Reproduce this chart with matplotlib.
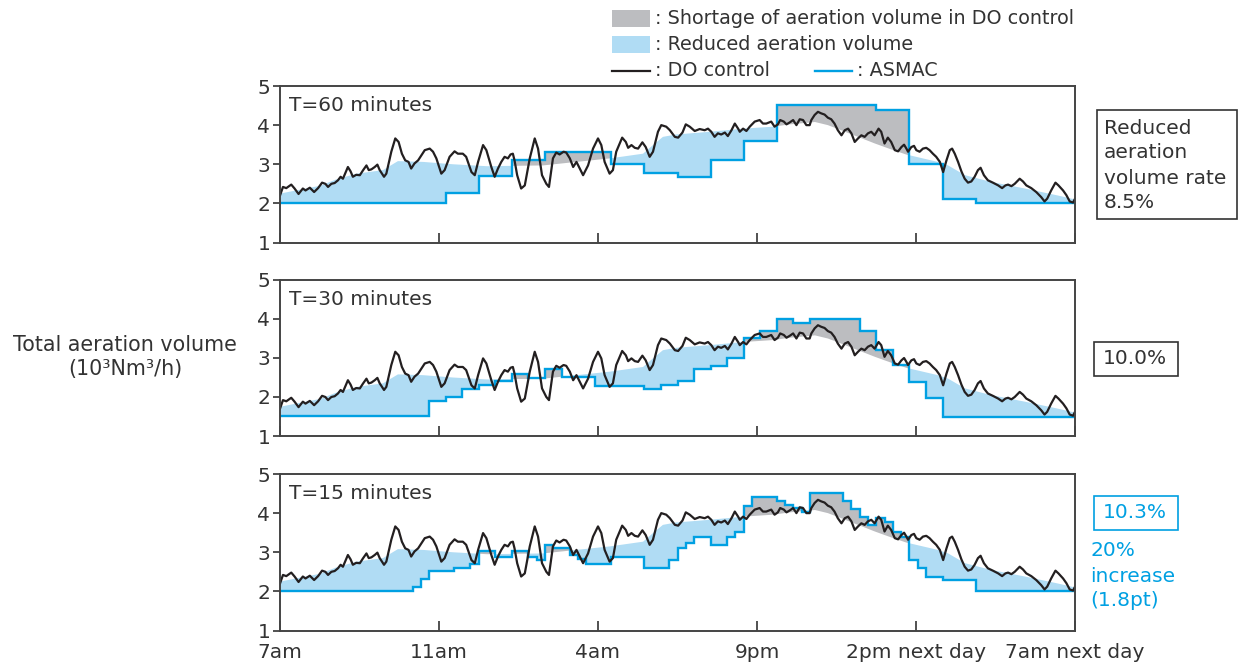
import numpy as np
import matplotlib
matplotlib.use("Agg")
import matplotlib.pyplot as plt
from matplotlib.lines import Line2D
from matplotlib.patches import Rectangle

plt.rcParams['font.family'] = ['DejaVu Sans']

# ---------------- data (time in hours after 7am) ----------------
x_tick_pos = [0, 4.8, 9.6, 14.4, 19.2, 24]
x_tick_labels = ["7am", "11am", "4am", "9pm", "2pm next day", "7am next day"]
y_ticks = [1, 2, 3, 4, 5]

do_t = [0.00, 0.09, 0.19, 0.34, 0.44, 0.56, 0.69, 0.77, 0.90, 1.03, 1.15, 1.27, 1.37, 1.45, 1.55,
        1.65, 1.75, 1.83, 1.90, 2.05, 2.13, 2.20, 2.30, 2.41, 2.51, 2.61, 2.68, 2.76, 2.86, 2.94,
        3.01, 3.14, 3.21, 3.36, 3.48, 3.58, 3.68, 3.78, 3.88, 3.96, 4.06, 4.17, 4.37, 4.52, 4.62,
        4.72, 4.87, 4.97, 5.12, 5.27, 5.37, 5.52, 5.62, 5.78, 5.88, 5.98, 6.13, 6.23, 6.38, 6.48,
        6.58, 6.68, 6.78, 6.88, 6.96, 7.03, 7.08, 7.16, 7.28, 7.39, 7.54, 7.69, 7.79, 7.91, 8.04,
        8.12, 8.24, 8.34, 8.44, 8.56, 8.64, 8.75, 8.85, 8.95, 9.05, 9.15, 9.30, 9.45, 9.60, 9.70,
        9.80, 9.95, 10.05, 10.15, 10.33, 10.44, 10.51, 10.61, 10.71, 10.81, 10.94, 11.04, 11.16,
        11.26, 11.41, 11.51, 11.66, 11.77, 11.92, 12.02, 12.15, 12.25, 12.37, 12.52, 12.67, 12.82,
        12.92, 13.02, 13.12, 13.22, 13.32, 13.43, 13.52, 13.63, 13.73, 13.83, 13.88, 13.98, 14.08,
        14.18, 14.33, 14.48, 14.58, 14.68, 14.83, 14.93, 15.03, 15.10, 15.21, 15.29, 15.39, 15.49,
        15.59, 15.69, 15.79, 15.89, 15.99, 16.04, 16.14, 16.24, 16.34, 16.44, 16.54, 16.64, 16.74,
        16.84, 16.95, 17.05, 17.15, 17.25, 17.35, 17.45, 17.55, 17.65, 17.75, 17.85, 17.95, 18.07,
        18.15, 18.25, 18.35, 18.45, 18.56, 18.66, 18.76, 18.84, 18.91, 18.96, 19.06, 19.14, 19.21,
        19.31, 19.41, 19.51, 19.61, 19.71, 19.81, 19.92, 20.02, 20.12, 20.22, 20.29, 20.37, 20.47,
        20.57, 20.67, 20.77, 20.87, 20.97, 21.07, 21.15, 21.25, 21.37, 21.52, 21.68, 21.80, 21.90,
        21.98, 22.08, 22.18, 22.33, 22.43, 22.53, 22.68, 22.83, 22.98, 23.08, 23.16, 23.28, 23.41,
        23.50, 23.64, 23.74, 23.84, 23.94, 24.00]
do_v = [2.20, 2.42, 2.39, 2.48, 2.38, 2.24, 2.38, 2.33, 2.40, 2.29, 2.39, 2.53, 2.50, 2.42, 2.50,
        2.52, 2.59, 2.68, 2.63, 2.93, 2.82, 2.68, 2.73, 2.72, 2.85, 2.97, 2.85, 2.87, 2.93, 2.99,
        2.85, 2.68, 2.76, 3.32, 3.66, 3.57, 3.27, 3.10, 3.06, 2.89, 3.02, 3.10, 3.36, 3.40, 3.32,
        3.15, 2.76, 2.85, 3.19, 3.33, 3.27, 3.27, 3.19, 2.80, 2.72, 3.06, 3.49, 3.36, 2.93, 2.68,
        2.89, 3.06, 3.19, 3.15, 3.25, 3.27, 3.10, 2.72, 2.38, 2.46, 3.15, 3.66, 3.40, 2.72, 2.50,
        2.42, 3.15, 3.30, 3.25, 3.32, 3.30, 3.15, 2.93, 3.06, 2.89, 2.72, 2.97, 3.40, 3.66, 3.49,
        3.06, 2.76, 2.85, 3.32, 3.68, 3.57, 3.42, 3.49, 3.42, 3.40, 3.56, 3.44, 3.19,
        3.32, 3.83, 4.00, 3.96, 3.87, 3.70, 3.68, 3.81, 4.02, 3.96, 3.85, 3.90, 3.87,
        3.91, 3.83, 3.70, 3.79, 3.76, 3.81, 3.72, 3.87, 4.04, 3.91, 3.83, 3.91, 3.85,
        3.96, 4.09, 4.13, 4.04, 4.04, 4.09, 3.96, 4.02, 4.13, 4.09, 4.02, 4.07, 4.13,
        4.00, 4.15, 4.13, 4.00, 4.00, 4.13, 4.26, 4.34, 4.30, 4.27, 4.19, 4.15, 4.04,
        3.87, 3.74, 3.87, 3.91, 3.79, 3.57, 3.66, 3.74, 3.70, 3.79, 3.83, 3.74, 3.91,
        3.83, 3.53, 3.68, 3.57, 3.36, 3.33, 3.44, 3.50, 3.40, 3.32, 3.44, 3.47, 3.36,
        3.32, 3.40, 3.42, 3.36, 3.27, 3.19, 3.06, 2.80, 3.10, 3.36, 3.40, 3.27, 3.06,
        2.82, 2.63, 2.53, 2.56, 2.68, 2.85, 2.91, 2.72, 2.59, 2.53, 2.46, 2.39, 2.46,
        2.48, 2.44, 2.50, 2.63, 2.56, 2.46, 2.39, 2.29, 2.16, 2.05, 2.12, 2.33, 2.53,
        2.46, 2.33, 2.21, 2.05, 2.02, 2.12]

# smooth required aeration curve (top of the reduced-volume area)
req_t = [0, 1.21, 1.72, 2.32, 3.11, 3.56, 4.32, 5.22, 6.25, 7.94, 9.96, 10.96, 11.26, 11.56,
         11.95, 12.98, 13.98, 14.88, 15.40, 16.15, 16.54, 16.94, 17.45, 17.96, 18.45, 18.90,
         19.86, 20.17, 20.68, 21.46, 22.49, 23.49, 24.0]
req_v = [2.25, 2.45, 2.62, 2.76, 2.85, 3.08, 3.06, 3.00, 2.95, 2.97, 3.15, 3.27, 3.49, 3.70,
         3.76, 3.83, 3.91, 3.96, 4.02, 4.08, 4.00, 3.87, 3.70, 3.53, 3.38, 3.25,
         3.06, 2.97, 2.72, 2.55, 2.38, 2.20, 2.10]

# ASMAC set-point steps for each control period
asmac60_edges = [0, 5, 6, 7, 8, 10, 11, 12, 13, 14, 15, 18, 19, 20, 21, 24]
asmac60_vals = [2.0, 2.26, 2.69, 3.10, 3.32, 3.0, 2.78, 2.67, 3.10, 3.60, 4.51, 4.38, 3.0, 2.10, 2.0]

asmac30_edges = [0, 4.5, 5, 5.5, 6, 6.5, 7, 7.5, 8, 8.5, 9.5, 11, 11.5, 12, 12.5, 13, 13.5, 14,
                 14.5, 15, 15.5, 16, 17.5, 18, 18.5, 19, 19.5, 20, 24]
asmac30_vals = [1.51, 1.90, 2.01, 2.21, 2.30, 2.41, 2.60, 2.49, 2.72, 2.51, 2.28, 2.21, 2.30,
                2.41, 2.72, 2.79, 3.0, 3.51, 3.68, 4.0, 3.91, 4.0, 3.70, 3.21, 2.81, 2.39, 1.98, 1.50]

asmac15_edges = [0, 4.0, 4.25, 4.5, 5.25, 5.75, 6.0, 6.5, 7.0, 7.5, 7.75, 8.0, 8.25, 8.75, 9.0,
                 9.25, 10.0, 11.0, 11.75, 12.0, 12.25, 12.5, 13.0, 13.5, 13.75, 14.0, 14.25, 15.0,
                 15.25, 15.5, 15.75, 16.0, 17.0, 17.25, 17.5, 17.75, 18.0, 18.25, 18.5, 18.75,
                 19.0, 19.25, 19.5, 20.0, 21.0, 24]
asmac15_vals = [2.0, 2.12, 2.32, 2.51, 2.59, 2.70, 3.02, 2.89, 3.02, 2.89, 2.81, 3.19, 3.10, 2.93,
                2.82, 2.70, 2.89, 2.59, 2.81, 3.10, 3.23, 3.40, 3.19, 3.40, 3.53, 4.18, 4.42, 4.32,
                4.21, 4.12, 4.04, 4.51, 4.32, 4.10, 3.89, 3.70, 3.87, 3.78, 3.53, 3.39, 2.81, 2.59,
                2.38, 2.30, 2.0]

panel_titles = ["T=60 minutes", "T=30 minutes", "T=15 minutes"]
panel_shift = [0.0, -0.5, 0.0]   # panel 2 is drawn 0.5 lower in the original
rate_labels = ["Reduced\naeration\nvolume rate\n8.5%", "10.0%", "10.3%"]
increase_label = "20%\nincrease\n(1.8pt)"

# ---------------- styling ----------------
TXT = "#333333"
BLACK = "#231f20"
ASMAC = "#00a0e2"
BLUEFILL = "#b0dcf4"
GRAYFILL = "#bcbdc0"

W, H = 1240, 664
fig = plt.figure(figsize=(W / 100, H / 100), dpi=100)

def fx(px):
    return px / W

def fy(py):
    return 1 - py / H

panels_px = [(86, 242.5), (280, 436), (474, 630.5)]
left_px, right_px = 280, 1075

steps = [(asmac60_edges, asmac60_vals), (asmac30_edges, asmac30_vals), (asmac15_edges, asmac15_vals)]
grid = np.linspace(0, 24, 9601)

for i, (top, bot) in enumerate(panels_px):
    ax = fig.add_axes([fx(left_px), fy(bot), fx(right_px - left_px), (bot - top) / H])
    off = panel_shift[i]
    edges, vals = steps[i]
    edges_a = np.array(edges)
    vals_a = np.array(vals)
    idx = np.clip(np.searchsorted(edges_a, grid, side='right') - 1, 0, len(vals_a) - 1)
    step_g = vals_a[idx]
    req_g = np.interp(grid, req_t, req_v) + off
    ax.fill_between(grid, step_g, req_g, where=req_g >= step_g, color=BLUEFILL, lw=0, interpolate=True)
    ax.fill_between(grid, step_g, req_g, where=req_g < step_g, color=GRAYFILL, lw=0, interpolate=True)
    ax.step(edges, list(vals) + [vals[-1]], where='post', color=ASMAC, lw=1.7, solid_joinstyle='miter')
    ax.plot(do_t, np.array(do_v) + off, color=BLACK, lw=1.6, solid_joinstyle='round')

    ax.set_xlim(0, 24)
    ax.set_ylim(1, 5)
    ax.set_yticks(y_ticks)
    ax.set_yticklabels([str(v) for v in y_ticks], fontsize=14.5, color=TXT)
    ax.set_xticks(x_tick_pos)
    if i == 2:
        ax.set_xticklabels(x_tick_labels, fontsize=14.5, color=TXT)
    else:
        ax.set_xticklabels([])
    ax.tick_params(axis='y', direction='out', length=5, width=1.2, color=TXT, pad=2)
    ax.tick_params(axis='x', direction='in', length=7, width=1.2, color=TXT, pad=9)
    for s in ax.spines.values():
        s.set_color("#444444")
        s.set_linewidth(1.4)
    ax.text(fx(289 - left_px) / fx(right_px - left_px), 0.935, panel_titles[i],
            transform=ax.transAxes, fontsize=14.5, color=TXT, ha='left', va='top')

# y label
fig.text(fx(125), fy(345), "Total aeration volume", fontsize=14.9, color=TXT, ha='center', va='center')
fig.text(fx(125), fy(369), "(10³Nm³/h)", fontsize=14.9, color=TXT, ha='center', va='center')

# legend (drawn in figure coordinates)
fig.patches.append(Rectangle((fx(612), fy(27)), fx(38), 17 / H, transform=fig.transFigure,
                             color=GRAYFILL, lw=0))
fig.patches.append(Rectangle((fx(612), fy(53)), fx(38), 17 / H, transform=fig.transFigure,
                             color=BLUEFILL, lw=0))
fig.lines.append(Line2D([fx(612), fx(650)], [fy(71), fy(71)], transform=fig.transFigure,
                        color=BLACK, lw=1.6))
fig.lines.append(Line2D([fx(815), fx(852)], [fy(71), fy(71)], transform=fig.transFigure,
                        color=ASMAC, lw=1.7))
LEG = 13.8
fig.text(fx(655), fy(18), ": Shortage of aeration volume in DO control", fontsize=LEG, color=TXT,
         ha='left', va='center')
fig.text(fx(655), fy(45), ": Reduced aeration volume", fontsize=LEG, color=TXT, ha='left', va='center')
fig.text(fx(655), fy(71), ": DO control", fontsize=LEG, color=TXT, ha='left', va='center')
fig.text(fx(857), fy(71), ": ASMAC", fontsize=LEG, color=TXT, ha='left', va='center')

# right-side annotation boxes
def box(x0, y0, x1, y1, ec):
    fig.patches.append(Rectangle((fx(x0), fy(y1)), fx(x1 - x0), (y1 - y0) / H,
                                 transform=fig.transFigure, fc='none', ec=ec, lw=1.2))

RF = 14.5
box(1097, 110, 1237, 219, "#333333")
for k, line in enumerate(rate_labels[0].split("\n")):
    fig.text(fx(1104), fy(128 + 25 * k), line, fontsize=RF, color=TXT, ha='left', va='center')
box(1094, 342, 1178, 376, "#333333")
fig.text(fx(1103), fy(359), rate_labels[1], fontsize=RF, color=TXT, ha='left', va='center')
box(1094, 496, 1178, 530, ASMAC)
fig.text(fx(1103), fy(513), rate_labels[2], fontsize=RF, color=ASMAC, ha='left', va='center')
for k, line in enumerate(increase_label.split("\n")):
    fig.text(fx(1090), fy(551 + 25 * k), line, fontsize=RF, color=ASMAC, ha='left', va='center')

fig.savefig("out.png", dpi=100)
